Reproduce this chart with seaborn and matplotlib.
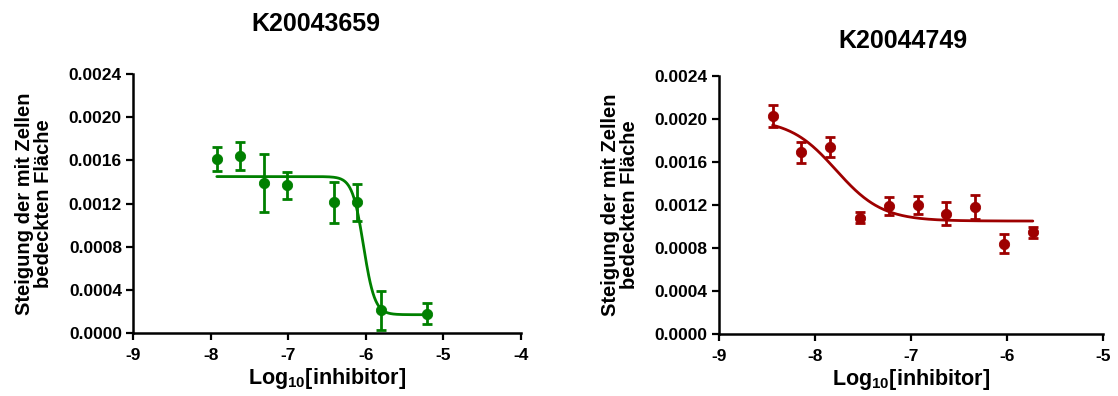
import numpy as np
import pandas as pd
import matplotlib
matplotlib.use("Agg")
import matplotlib.pyplot as plt
import matplotlib.ticker as mticker
import seaborn as sns

# Werte
titles = ["K20043659", "K20044749"]

x_left = [-7.92, -7.62, -7.31, -7.01, -6.41, -6.11, -5.81, -5.21]
y_left = [0.00161, 0.00164, 0.00139, 0.00137, 0.00121, 0.00121, 0.00021, 0.00018]
err_left = [0.00011, 0.00013, 0.00027, 0.000125, 0.00019, 0.00017, 0.00018, 0.00010]
fit_left = dict(top=0.00145, bottom=0.00017, logic50=-6.03, hill=6.0)

x_right = [-8.44, -8.14, -7.84, -7.53, -7.23, -6.93, -6.63, -6.33, -6.03, -5.73]
y_right = [0.00203, 0.00169, 0.00174, 0.00108, 0.00119, 0.00120, 0.00112, 0.00118, 0.00084, 0.000945]
err_right = [0.00010, 0.00010, 0.00009, 0.00005, 0.00008, 0.00008, 0.00011, 0.000115, 0.00009, 0.00005]
fit_right = dict(top=0.00200, bottom=0.00105, logic50=-7.78, hill=1.8)

yticks = [0.0, 0.0004, 0.0008, 0.0012, 0.0016, 0.0020, 0.0024]
xticks_left = [-9, -8, -7, -6, -5, -4]
xticks_right = [-9, -8, -7, -6, -5]

green = "#008000"
red = "#9e0000"

sns.set_style("ticks")
plt.rcParams['font.family'] = ['Liberation Sans', 'DejaVu Sans']
plt.rcParams['font.weight'] = 'bold'
plt.rcParams['mathtext.fontset'] = 'custom'
plt.rcParams['mathtext.rm'] = 'Liberation Sans:bold'
plt.rcParams['mathtext.bf'] = 'Liberation Sans:bold'
for k in ['text.color', 'axes.labelcolor', 'xtick.color', 'ytick.color', 'axes.edgecolor']:
    plt.rcParams[k] = 'black'


def four_pl(x, p):
    return p['bottom'] + (p['top'] - p['bottom']) / (1 + 10 ** ((x - p['logic50']) * p['hill']))


fig = plt.figure(figsize=(11.18, 3.96), dpi=100)
ax1 = fig.add_axes([0.119, 0.159, 0.347, 0.654])
ax2 = fig.add_axes([0.643, 0.157, 0.3435, 0.651])

panels = [
    (ax1, x_left, y_left, err_left, fit_left, green, xticks_left, titles[0], 31, 0.47),
    (ax2, x_right, y_right, err_right, fit_right, red, xticks_right, titles[1], 20, 0.48),
]

for ax, xs, ys, es, fit, col, xt, title, pad, tx in panels:
    xc = np.linspace(min(xs), max(xs), 300)
    curve = pd.DataFrame({'x': xc, 'y': four_pl(xc, fit)})
    sns.lineplot(data=curve, x='x', y='y', ax=ax, color=col, lw=2)
    ax.errorbar(xs, ys, yerr=es, fmt='none', ecolor=col, elinewidth=2,
                capsize=3.5, capthick=2)
    sns.scatterplot(x=xs, y=ys, ax=ax, color=col, s=55, edgecolor=col, zorder=3)

    ax.set_xlim(xt[0], xt[-1])
    ax.set_ylim(0, 0.0024)
    ax.set_xticks(xt)
    ax.set_yticks(yticks)
    ax.yaxis.set_major_formatter(mticker.FormatStrFormatter('%.4f'))
    ax.xaxis.set_major_formatter(mticker.FuncFormatter(lambda v, p: f"{int(v)}"))
    ax.tick_params(width=1.6, length=5, labelsize=12.5, pad=3)
    ax.tick_params(axis='x', pad=6)
    for lab in ax.get_xticklabels() + ax.get_yticklabels():
        lab.set_fontweight('bold')
    for s in ['left', 'bottom']:
        ax.spines[s].set_linewidth(1.8)
    sns.despine(ax=ax)
    ax.set_xlabel(r"Log$_{10}$[inhibitor]", fontsize=15.5, fontweight='bold', labelpad=2)
    ax.set_ylabel("Steigung der mit Zellen\nbedeckten Fläche", fontsize=14.5,
                  fontweight='bold', linespacing=1.0, labelpad=11)
    ax.set_title(title, fontsize=18, fontweight='bold', pad=pad, x=tx)

fig.savefig("out.png", dpi=100)
